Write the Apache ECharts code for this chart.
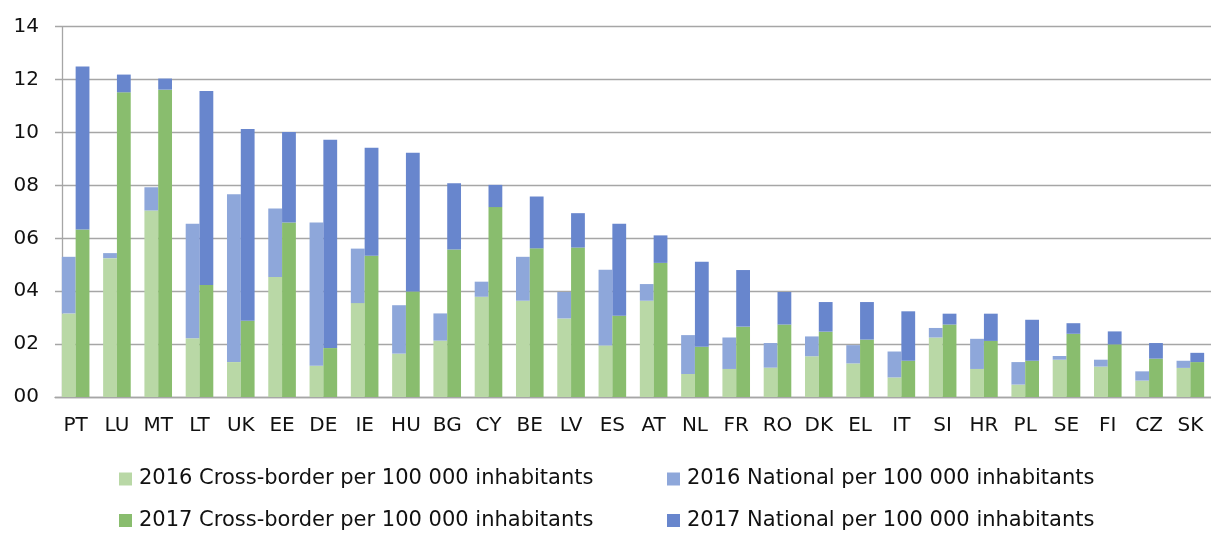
<!DOCTYPE html>
<html>
<head>
<meta charset="utf-8">
<script src="https://cdn.jsdelivr.net/npm/echarts@6/dist/echarts.min.js"></script>
<style>
  html, body { margin: 0; padding: 0; background: #fff; }
  #chart { width: 1211px; height: 533px; }
</style>
</head>
<body>
<div id="chart"></div>
<script>
// Member states, ordered by 2017 total
const countries = ['PT','LU','MT','LT','UK','EE','DE','IE','HU','BG','CY','BE','LV','ES','AT','NL','FR','RO','DK','EL','IT','SI','HR','PL','SE','FI','CZ','SK'];

// Segment values per 100 000 inhabitants (national part stacks on top of cross-border part)
const cross2016 = [3.16,5.25,7.05,2.22,1.32,4.54,1.18,3.55,1.64,2.13,3.79,3.64,2.97,1.95,3.64,0.87,1.06,1.11,1.54,1.27,0.74,2.25,1.06,0.47,1.41,1.15,0.62,1.10];
const national2016 = [2.14,0.19,0.88,4.33,6.35,2.59,5.42,2.06,1.83,1.03,0.57,1.66,1.00,2.86,0.63,1.47,1.19,0.93,0.75,0.69,0.98,0.36,1.14,0.85,0.14,0.26,0.35,0.27];
const cross2017 = [6.33,11.52,11.62,4.23,2.88,6.60,1.85,5.34,3.99,5.58,7.18,5.62,5.65,3.07,5.07,1.90,2.66,2.74,2.47,2.17,1.37,2.74,2.12,1.37,2.39,1.99,1.45,1.32];
const national2017 = [6.17,0.67,0.42,7.34,7.25,3.42,7.88,4.08,5.24,2.50,0.84,1.96,1.30,3.48,1.04,3.21,2.14,1.23,1.12,1.42,1.87,0.41,1.03,1.55,0.40,0.49,0.59,0.35];

const yTicks = [0, 2, 4, 6, 8, 10, 12, 14];

const names = {
  c16: '2016 Cross-border per 100 000 inhabitants',
  n16: '2016 National per 100 000 inhabitants',
  c17: '2017 Cross-border per 100 000 inhabitants',
  n17: '2017 National per 100 000 inhabitants'
};
const colors = { c16: '#B9D8A6', n16: '#8EA7DA', c17: '#89BD6E', n17: '#6886CD' };

const FONT = 'DejaVu Sans';
const textColor = '#111';

function legendAt(name, left, top) {
  return {
    data: [name],
    left: left, top: top,
    padding: 0,
    icon: 'rect',
    itemWidth: 13, itemHeight: 13,
    selectedMode: false,
    textStyle: { fontFamily: FONT, fontSize: 21, color: textColor, padding: [0, 0, 0, 2] }
  };
}

function barSeries(key, stack, data) {
  return {
    name: names[key],
    type: 'bar',
    stack: stack,
    data: data,
    barWidth: 13.8,
    barGap: '0%',
    itemStyle: { color: colors[key] },
    emphasis: { disabled: true },
    animation: false
  };
}

const chart = echarts.init(document.getElementById('chart'), null, { renderer: 'canvas' });
chart.setOption({
  animation: false,
  grid: { left: 55, right: 0, top: 26.7, bottom: 136 },
  legend: [
    legendAt(names.c16, 119, 468.5),
    legendAt(names.n16, 667, 468.5),
    legendAt(names.c17, 119, 510),
    legendAt(names.n17, 667, 510)
  ],
  xAxis: {
    type: 'category',
    data: countries,
    axisLine: { show: true, lineStyle: { color: '#A6A6A6', width: 1.3 } },
    axisTick: { show: false },
    axisLabel: { interval: 0, fontFamily: FONT, fontSize: 20, color: textColor, margin: 19 }
  },
  yAxis: {
    type: 'value',
    min: yTicks[0],
    max: yTicks[yTicks.length - 1],
    interval: 2,
    offset: -7,
    axisLine: { show: true, lineStyle: { color: '#A6A6A6', width: 1.3 } },
    axisTick: { show: false },
    splitLine: { show: true, lineStyle: { color: '#A6A6A6', width: 1.3 } },
    axisLabel: {
      fontFamily: FONT, fontSize: 20, color: textColor, margin: 23,
      formatter: v => (v < 10 ? '0' : '') + v
    }
  },
  series: [
    barSeries('c16', 'y2016', cross2016),
    barSeries('n16', 'y2016', national2016),
    barSeries('c17', 'y2017', cross2017),
    barSeries('n17', 'y2017', national2017)
  ]
});
</script>
</body>
</html>
